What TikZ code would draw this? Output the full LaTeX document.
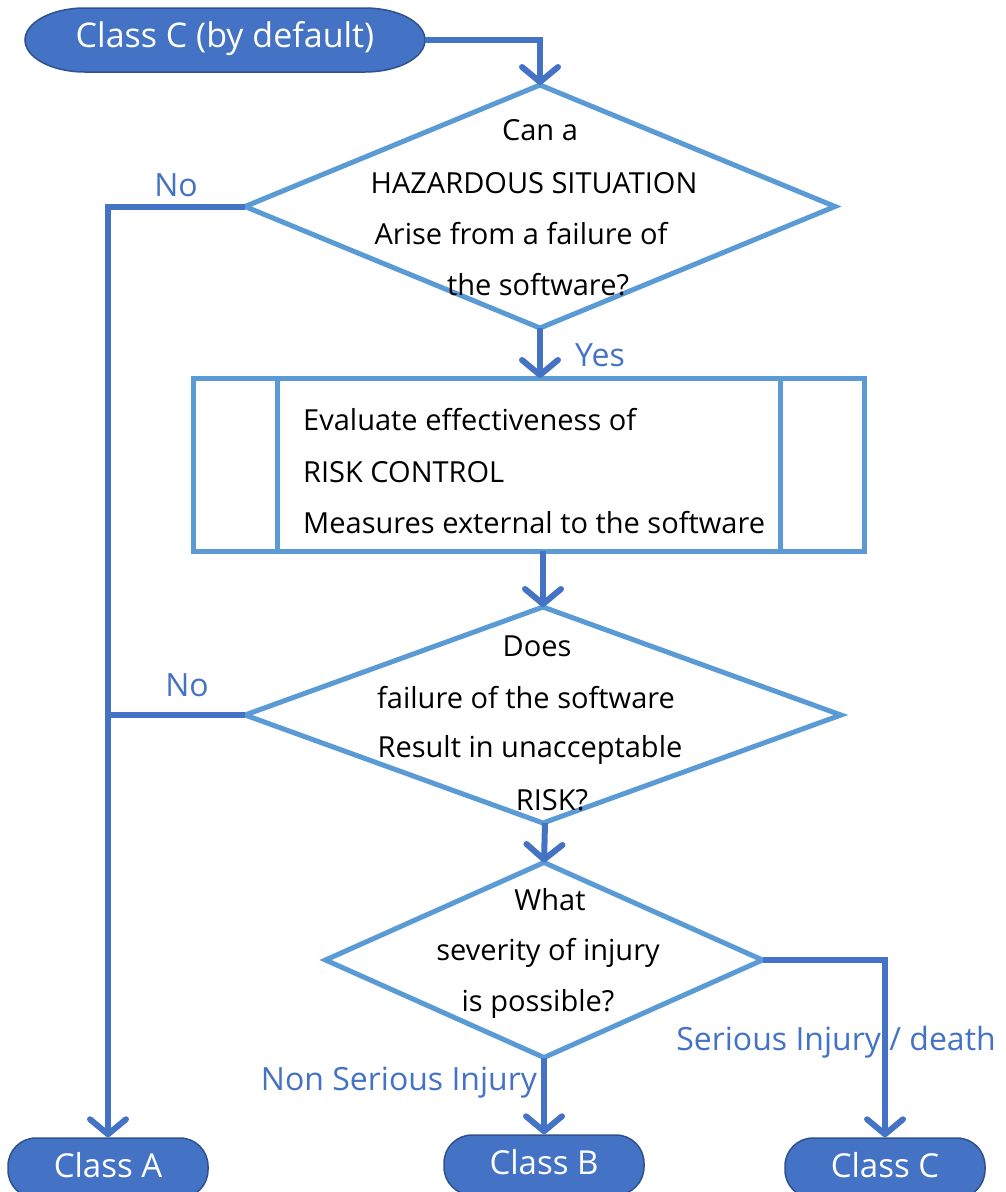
\documentclass[tikz,border=0pt]{standalone}
\usepackage{fontspec}
\setmainfont{Open Sans}
\usetikzlibrary{shapes.geometric,arrows.meta}
\definecolor{flowdark}{HTML}{4472C4}
\definecolor{flowlight}{HTML}{5B9BD5}
\definecolor{flowedge}{HTML}{2F528F}
\begin{document}
\begin{tikzpicture}[x=1pt,y=-1pt,
  terminal/.style={fill=flowdark,draw=flowedge,line width=1.5pt,text=white,
    font=\fontsize{34}{36}\selectfont,inner sep=0pt},
  classbox/.style={terminal,rectangle,rounded corners=28pt,minimum width=200pt,minimum height=60pt},
  classtext/.style={text=white,font=\fontsize{33}{36}\selectfont,inner sep=0pt},
  decision/.style={diamond,draw=flowlight,line width=5pt,inner sep=0pt,outer sep=0pt,aspect=1},
  body/.style={font=\fontsize{29}{32}\selectfont,text=black,inner sep=0pt},
  flowlabel/.style={font=\fontsize{32}{34}\selectfont,text=flowdark,inner sep=0pt},
  link/.style={draw=flowdark,line width=6pt},
  arrowlink/.style={link,-{Straight Barb[length=15pt,width=36pt,round]}}]
\useasboundingbox (0,0) rectangle (1005,1192);

% start terminal: flat top and bottom with elliptical ends
\fill[flowdark,draw=flowedge,line width=1.5pt]
  (85,8) -- (365,8) arc[start angle=-90,end angle=90,x radius=60,y radius=32]
  -- (85,72) arc[start angle=90,end angle=270,x radius=60,y radius=32] -- cycle;
\node[minimum width=400pt,minimum height=64pt,inner sep=0pt,outer sep=0pt] (start) at (225,40) {};
\node[text=white,font=\fontsize{34}{36}\selectfont,inner sep=0pt] (tstart) at (225,39) {Class C (by default)};

% end terminals
\node[classbox] (classA) at (108,1168) {};
\node[classbox] (classB) at (544,1165) {};
\node[classbox] (classC) at (885,1168) {};
\node[classtext] (tA) at (108,1165) {Class A};
\node[classtext] (tB) at (544,1162) {Class B};
\node[classtext] (tC) at (885,1165) {Class C};

% decisions
\node[decision,minimum width=590pt,minimum height=243pt] (d1) at (540,206.5) {};
\node[decision,minimum width=596pt,minimum height=216pt] (d2) at (543,715) {};
\node[decision,minimum width=437pt,minimum height=195pt] (d3) at (544,960) {};

% process box with side bars
\node[draw=flowlight,line width=5pt,rectangle,minimum width=671pt,minimum height=173pt,inner sep=0pt,outer sep=0pt] (proc) at (528.5,464.5) {};
\draw[flowlight,line width=5pt] (277,378) -- (277,551) (780,378) -- (780,551);

% decision texts
\node[body] (q1a) at (540,130) {Can a};
\node[body] (q1b) at (534,183) {HAZARDOUS SITUATION};
\node[body] (q1c) at (521,234) {Arise from a failure of};
\node[body] (q1d) at (538,285) {the software?};

\node[body,anchor=west] (p1) at (303,420) {Evaluate effectiveness of};
\node[body,anchor=west] (p2) at (303,472) {RISK CONTROL};
\node[body,anchor=west] (p3) at (303,523) {Measures external to the software};

\node[body] (q2a) at (537,646) {Does};
\node[body] (q2b) at (526,698) {failure of the software};
\node[body] (q2c) at (530,750) {Result in unacceptable};
\node[body] (q2d) at (552,800) {RISK?};

\node[body] (q3a) at (550,900) {What};
\node[body] (q3b) at (548,953) {severity of injury};
\node[body] (q3c) at (538,1004) {is possible?};

% connectors
\draw[arrowlink] (start.east) -| (d1.north);
\draw[arrowlink] (d1.south) -- (d1.south |- proc.north);
\draw[arrowlink] (d2.north |- proc.south) -- (d2.north);
\draw[arrowlink] ([xshift=2pt]d2.south) -- (d3.north);
\draw[arrowlink] (d1.west) -| (classA.north);
\draw[link] (d2.west) -- (classA.north |- d2.west);
\draw[arrowlink] (d3.south) -- (classB.north);
\draw[arrowlink] (d3.east) -| (classC.north);

% branch labels
\node[flowlabel] (no1) at (176,185) {No};
\node[flowlabel] (yes) at (600,355) {Yes};
\node[flowlabel] (no2) at (187,685) {No};
\node[flowlabel] (serious) at (836,1042) {Serious Injury / death};
\node[flowlabel] (nonserious) at (399,1083) {Non Serious Injury};
\end{tikzpicture}
\end{document}
